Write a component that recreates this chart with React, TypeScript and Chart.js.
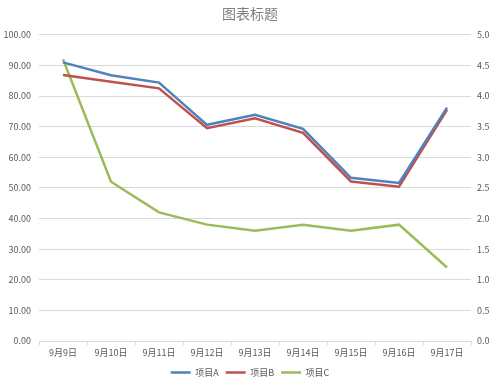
import React, { useEffect, useRef } from "react";
import { Chart, registerables } from "chart.js";

Chart.register(...registerables);

const categories = ["9月9日", "9月10日", "9月11日", "9月12日", "9月13日", "9月14日", "9月15日", "9月16日", "9月17日"];
const seriesA = [91.0, 86.8, 84.4, 70.6, 73.9, 69.3, 53.3, 51.6, 76.2];
const seriesB = [86.9, 84.7, 82.5, 69.5, 72.7, 68.0, 52.1, 50.4, 75.5];
const seriesC = [4.6, 2.6, 2.1, 1.9, 1.8, 1.9, 1.8, 1.9, 1.2];
const seriesNames = ["项目A", "项目B", "项目C"];
const titleText = "图表标题";

const FONT = "'Noto Sans CJK SC', 'Noto Sans', sans-serif";

export default function App() {
  const ref = useRef<HTMLCanvasElement | null>(null);
  useEffect(() => {
    if (!ref.current) return;
    const chart = new Chart(ref.current, {
      type: "line",
      data: {
        labels: categories,
        datasets: [
          { label: seriesNames[0], data: seriesA, borderColor: "#4F81BD", backgroundColor: "#4F81BD", borderWidth: 2.5, pointRadius: 0, tension: 0, yAxisID: "y" },
          { label: seriesNames[1], data: seriesB, borderColor: "#C0504D", backgroundColor: "#C0504D", borderWidth: 2.5, pointRadius: 0, tension: 0, yAxisID: "y" },
          { label: seriesNames[2], data: seriesC, borderColor: "#9BBB59", backgroundColor: "#9BBB59", borderWidth: 2.5, pointRadius: 0, tension: 0, yAxisID: "y1" },
        ],
      },
      options: {
        animation: false,
        responsive: false,
        layout: { padding: { top: 0, left: 0, right: 0, bottom: 0 } },
        plugins: {
          title: {
            display: true,
            text: titleText,
            color: "#7F7F7F",
            font: { family: FONT, size: 14, weight: "normal" },
            padding: { top: 5, bottom: 13 },
          },
          legend: {
            position: "bottom",
            labels: {
              usePointStyle: true,
              pointStyle: "line",
              pointStyleWidth: 20,
              boxHeight: 8,
              color: "#595959",
              font: { family: FONT, size: 9 },
              padding: 7,
            },
          },
          tooltip: { enabled: false },
        },
        scales: {
          x: {
            type: "category",
            offset: true,
            grid: { offset: true, drawOnChartArea: false, drawTicks: true, tickLength: 4, color: "#D9D9D9" },
            border: { display: true, color: "#D9D9D9" },
            ticks: { color: "#595959", font: { family: FONT, size: 9 }, maxRotation: 0, autoSkip: false, padding: 2 },
            afterFit: (s: any) => { s.height = 20; },
          },
          y: {
            position: "left",
            min: 0,
            max: 100,
            grid: { color: "#D9D9D9", drawTicks: false },
            border: { display: false },
            ticks: { stepSize: 10, color: "#595959", font: { family: FONT, size: 9 }, padding: 8, callback: (v: any) => Number(v).toFixed(2) },
            afterFit: (s: any) => { s.width = 39; },
          },
          y1: {
            position: "right",
            min: 0,
            max: 5,
            grid: { drawOnChartArea: false, drawTicks: false },
            border: { display: false },
            ticks: { stepSize: 0.5, color: "#595959", font: { family: FONT, size: 9 }, padding: 6, callback: (v: any) => Number(v).toFixed(1) },
            afterFit: (s: any) => { s.width = 29; },
          },
        },
      },
    });
    return () => chart.destroy();
  }, []);
  return (
    <div style={{ position: "fixed", left: 0, top: 0, width: 500, height: 387, background: "#fff" }}>
      <canvas ref={ref} width={500} height={387} style={{ width: 500, height: 387 }} />
    </div>
  );
}
